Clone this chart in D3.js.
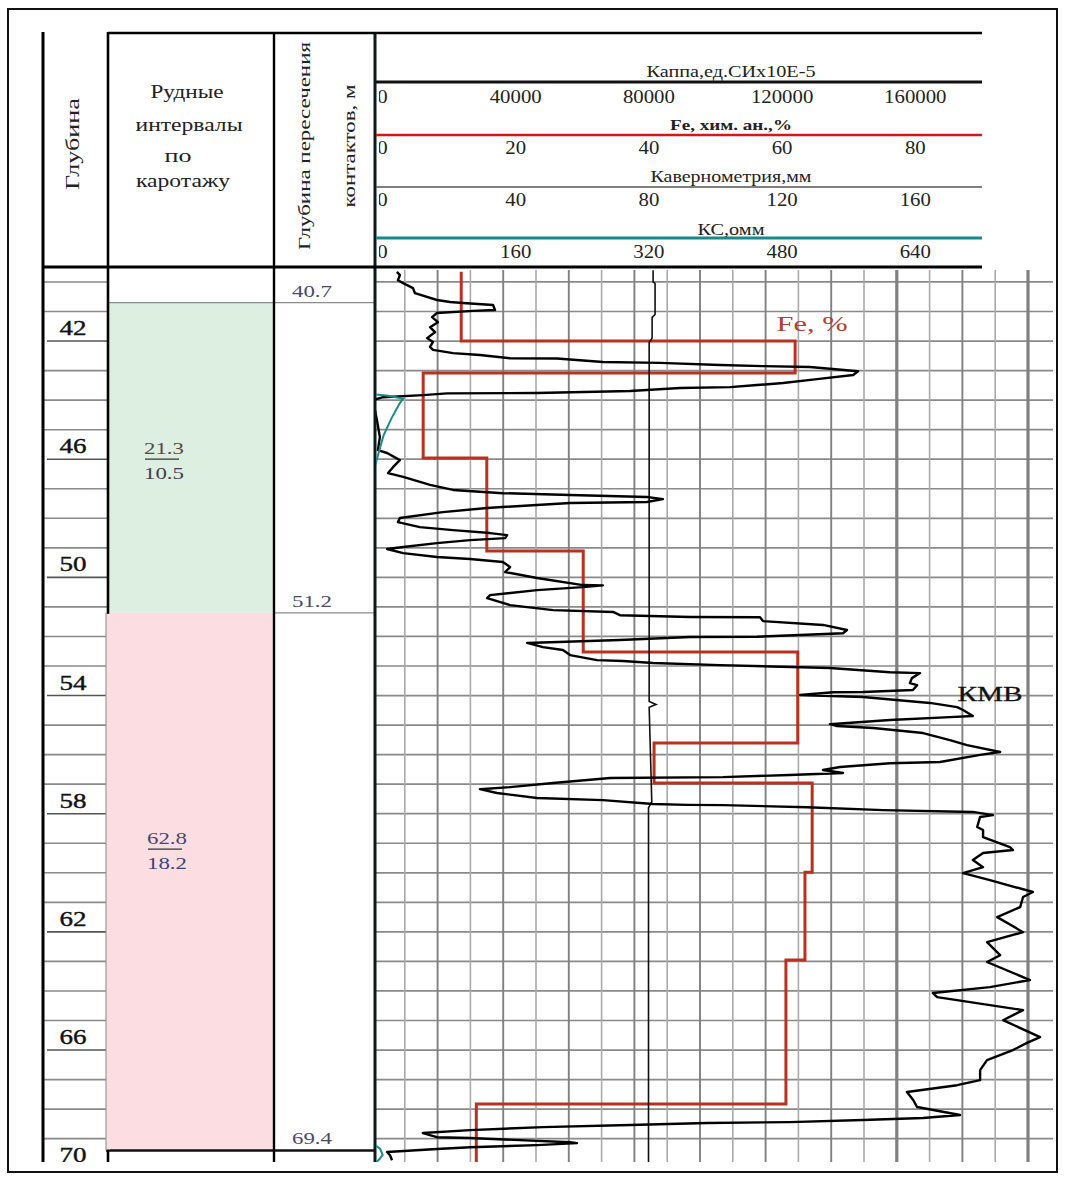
<!DOCTYPE html>
<html>
<head>
<meta charset="utf-8">
<script src="https://cdn.jsdelivr.net/npm/d3@7"></script>
<style>
  body { margin: 0; background: #fff; }
  svg { display: block; }
  text { font-family: "Liberation Serif", "Times New Roman", serif; }
</style>
</head>
<body>
<svg id="log" width="1065" height="1182"></svg>
<script>
// ---- Well log data ----
// depth column labels, m
const depthLabels = [42, 46, 50, 54, 58, 62, 66, 70];
// contact depths of the ore intervals, m
const contactDepths = [40.7, 51.2, 69.4];
// ore intervals by logging: top, bottom, grade label, thickness label
const oreTops = [40.7, 51.2];
const oreBottoms = [51.2, 69.4];
const oreGrades = ["21.3", "62.8"];
const oreThickness = ["10.5", "18.2"];
const oreColors = ["#dcefe1", "#fcdde2"];

// header tracks
const trackTitles = ["Каппа,ед.СИх10Е-5", "Fe, хим. ан.,%", "Кавернометрия,мм", "КС,омм"];
const trackMax = [200000, 100, 200, 800];
const kappaTicks = [0, 40000, 80000, 120000, 160000];
const feTicks = [0, 20, 40, 60, 80];
const caliperTicks = [0, 40, 80, 120, 160];
const kcTicks = [0, 160, 320, 480, 640];

// magnetic susceptibility (КМВ): [depth m, kappa SI x10E-5]
const kappaLog = [
  [39.66,7600],[39.77,8500],[39.94,7900],[40.04,9500],[40.21,12500],[40.38,13100],
  [40.61,19800],[40.68,23800],[40.71,27700],[40.78,36900],[40.95,37500],[40.98,30800],
  [41.05,19800],[41.19,18300],[41.36,20100],[41.53,17700],[41.70,19200],[41.90,16800],
  [42.03,18600],[42.20,17700],[42.30,18600],[42.41,24700],[42.47,32900],[42.58,42100],
  [42.59,56400],[42.71,70400],[42.74,87800],[42.81,106100],[42.85,119200],[42.88,133500],
  [43.02,148200],[43.15,146700],[43.29,135700],[43.42,125300],[43.49,117400],[43.56,109200],
  [43.59,93900],[43.69,78700],[43.76,50300],[43.77,22900],[43.83,15500],[43.90,3400],
  [44.00,300],[44.34,900],[44.67,1500],[45.25,2400],[45.69,1800],[45.79,4600],
  [46.03,8500],[46.27,6400],[46.47,4900],[46.60,9500],[46.87,17700],[47.04,24700],
  [47.15,39900],[47.21,60400],[47.28,83800],[47.35,88700],[47.45,83800],[47.48,60400],
  [47.65,35100],[47.79,21600],[47.99,8500],[48.13,7900],[48.30,14600],[48.40,24700],
  [48.50,36000],[48.57,41200],[48.67,40600],[48.74,29900],[48.84,19800],[48.97,9500],
  [49.04,4600],[49.18,9500],[49.31,19800],[49.38,29900],[49.48,39900],[49.65,42100],
  [49.82,40600],[50.02,50300],[50.26,64300],[50.27,70400],[50.33,64300],[50.43,50300],
  [50.60,36000],[50.70,35100],[50.94,42100],[51.11,55200],[51.17,73500],[51.28,75600],
  [51.34,97000],[51.35,118300],[51.48,119200],[51.61,137500],[51.78,144800],[51.89,143600],
  [51.95,130500],[52.01,117400],[52.02,97000],[52.12,75600],[52.22,47300],[52.36,52100],
  [52.46,58200],[52.63,60400],[52.80,68600],[52.83,76500],[52.90,85700],[52.97,106100],
  [53.07,139600],[53.21,157900],[53.24,167100],[53.41,164600],[53.58,164000],[53.65,166200],
  [53.81,164900],[53.88,149700],[53.89,140600],[53.98,130500],[54.05,149700],[54.25,170100],
  [54.39,178400],[54.49,180200],[54.69,183200],[54.73,176200],[54.83,157900],[54.97,139600],
  [55.03,141800],[55.10,152800],[55.27,168000],[55.51,176200],[55.68,181400],[55.91,191500],
  [56.01,185400],[56.25,173200],[56.29,157900],[56.42,142700],[56.52,137500],[56.62,143600],
  [56.69,127400],[56.76,107000],[56.79,72600],[56.96,55200],[57.10,42100],[57.17,32900],
  [57.30,38100],[57.47,50300],[57.54,70400],[57.67,85700],[57.70,96000],[57.71,107000],
  [57.78,132600],[57.88,155800],[57.94,183200],[58.05,189300],[58.11,185400],[58.45,184500],
  [58.55,186300],[58.79,186300],[59.13,194500],[59.23,195400],[59.33,186300],[59.57,183200],
  [59.81,186300],[60.01,180200],[60.25,188400],[60.65,201500],[60.82,198500],[61.16,197600],
  [61.50,190600],[62.01,198500],[62.35,187500],[62.79,191500],[63.02,187500],[63.63,200600],
  [63.87,188400],[64.07,171000],[64.21,172300],[64.48,188400],[64.65,198500],[64.99,192400],
  [65.56,203700],[65.76,199700],[66.00,195400],[66.34,187500],[66.68,185400],[67.02,185400],
  [67.19,178400],[67.42,163100],[67.69,165000],[67.93,166200],[68.20,179300],[68.30,168000],
  [68.37,149700],[68.44,127400],[68.47,102100],[68.54,78700],[68.61,52100],[68.71,29900],
  [68.81,15500],[68.95,19800],[68.98,29900],[69.12,60400],[69.15,62500],[69.22,50300],
  [69.29,29900],[69.35,19800],[69.45,4600],[69.56,5500],[69.73,6100]
];

// chemical assay Fe, %: sample tops, bottoms, values
const feTops =    [39.65, 42.00, 43.08, 45.96, 49.11, 52.53, 55.61, 56.96, 59.98, 62.95, 67.83];
const feBottoms = [42.00, 43.08, 45.96, 49.11, 52.53, 55.61, 56.96, 59.98, 62.95, 67.83, 69.80];
const feValues =  [13.6,  64.5,  7.8,   17.5,  32.2,  64.9,  43.0,  67.1,  66.0,  63.1,  15.9];

// caliper log: [depth m, diameter mm]
const caliperLog = [
  [39.6,85.7],[40.0,85.7],[40.05,86.3],[41.1,86.3],[41.2,85.4],[41.9,85.4],[42.05,84.5],
  [54.2,84.5],[54.3,86.6],[54.4,84.5],[57.6,85.3],[57.8,84.3],[69.8,84.3]
];

// apparent resistivity КС: [depth m, ohm-m]
const kcLog = [
  [39.5,3],[43.8,3],[43.85,20],[43.95,38],[44.1,34],[44.6,24],[45.2,14],[45.7,9],
  [46.1,5],[46.3,3],[69.2,3],[69.35,10],[69.55,13],[69.7,9],[69.8,5]
];

// ---- Layout ----
const col = { depthL: 43, oreL: 108, contactL: 274, plotL: 376 };
const headerTop = 33, headerBottom = 267, headerRight = 982;
const plotRight = 1055, plotBottom = 1162;

const svg = d3.select("#log");
svg.append("rect").attr("width", 1065).attr("height", 1182).attr("fill", "#fff");

const y = d3.scaleLinear().domain([39.5, 70]).range([267.2, 1168.2]);

// curve scales share the grid: 20 divisions across the plot
const xGrid = d3.scaleLinear().domain([0, 20]).range([372, 1028]);
const xKappa = d3.scaleLinear().domain([0, trackMax[0]]).range([372, 1028]);
const xFe = d3.scaleLinear().domain([0, trackMax[1]]).range([372, 1028]);
const xCal = d3.scaleLinear().domain([0, trackMax[2]]).range([372, 1028]);
const xKC = d3.scaleLinear().domain([0, trackMax[3]]).range([372, 1028]);

const defs = svg.append("defs");
defs.append("clipPath").attr("id", "plotClip").append("rect")
  .attr("x", col.plotL).attr("y", headerBottom + 2)
  .attr("width", plotRight - col.plotL + 2).attr("height", plotBottom - headerBottom - 2);
defs.append("clipPath").attr("id", "headClip").append("rect")
  .attr("x", col.plotL + 3).attr("y", headerTop).attr("width", 700).attr("height", headerBottom - headerTop);
defs.append("clipPath").attr("id", "colClip").append("rect")
  .attr("x", 0).attr("y", headerBottom).attr("width", col.plotL).attr("height", plotBottom - headerBottom);

// ---- Ore interval column ----
const left = svg.append("g").attr("clip-path", "url(#colClip)");
left.selectAll("rect.ore").data(oreTops).join("rect")
  .attr("class", "ore")
  .attr("x", (d, i) => i === 0 ? col.oreL : col.oreL - 2)
  .attr("width", (d, i) => col.contactL - (i === 0 ? col.oreL : col.oreL - 2))
  .attr("y", d => y(d))
  .attr("height", (d, i) => y(oreBottoms[i]) - y(d))
  .attr("fill", (d, i) => oreColors[i]);

// depth column meter lines
left.selectAll("line.meter").data(d3.range(40, 70)).join("line")
  .attr("class", "meter")
  .attr("x1", d => depthLabels.includes(d) ? col.depthL + 4 : col.depthL)
  .attr("x2", col.oreL)
  .attr("y1", d => y(d)).attr("y2", d => y(d))
  .attr("stroke", d => depthLabels.includes(d) ? "#555" : "#8a8a8a")
  .attr("stroke-width", 1.6);

left.selectAll("text.depth").data(depthLabels).join("text")
  .attr("class", "depth")
  .attr("x", 73).attr("y", d => y(d) - 6)
  .attr("text-anchor", "middle")
  .attr("font-size", 21).attr("fill", "#111")
  .attr("stroke", "#111").attr("stroke-width", 0.4)
  .attr("textLength", 27).attr("lengthAdjust", "spacingAndGlyphs")
  .text(d => d);

// contact lines and labels
left.selectAll("line.contact").data(contactDepths).join("line")
  .attr("class", "contact")
  .attr("x1", (d, i) => i === 2 ? col.oreL - 2 : (i === 0 ? col.oreL : col.contactL))
  .attr("x2", col.plotL)
  .attr("y1", d => y(d)).attr("y2", d => y(d))
  .attr("stroke", (d, i) => i === 2 ? "#111" : "#8c8c8c")
  .attr("stroke-width", (d, i) => i === 2 ? 2.5 : 1.4);

left.selectAll("text.contact").data(contactDepths).join("text")
  .attr("class", "contact")
  .attr("x", 312).attr("y", d => y(d) - 6)
  .attr("text-anchor", "middle")
  .attr("font-size", 17).attr("fill", "#4a4a68")
  .attr("textLength", 40).attr("lengthAdjust", "spacingAndGlyphs")
  .text(d => d.toFixed(1));

// grade / thickness fractions
const fracDepth = [46.0, 59.2];
const fracX = [164, 167];
oreGrades.forEach((g, i) => {
  const yl = y(fracDepth[i]);
  left.append("text").attr("x", fracX[i]).attr("y", yl - 5)
    .attr("text-anchor", "middle").attr("font-size", 17)
    .attr("fill", i === 0 ? "#5a4a3e" : "#3c4a78")
    .attr("textLength", 40).attr("lengthAdjust", "spacingAndGlyphs").text(g);
  left.append("line").attr("x1", fracX[i] - 19).attr("x2", fracX[i] + 15)
    .attr("y1", yl).attr("y2", yl).attr("stroke", "#333").attr("stroke-width", 1.3);
  left.append("text").attr("x", fracX[i]).attr("y", yl + 20)
    .attr("text-anchor", "middle").attr("font-size", 17)
    .attr("fill", i === 0 ? "#4a3a52" : "#3a4670")
    .attr("textLength", 40).attr("lengthAdjust", "spacingAndGlyphs").text(oreThickness[i]);
});

// ---- Log plot ----
const plot = svg.append("g").attr("clip-path", "url(#plotClip)");

plot.selectAll("line.hgrid").data(d3.range(40, 71)).join("line")
  .attr("class", "hgrid")
  .attr("x1", col.plotL).attr("x2", plotRight - 2)
  .attr("y1", d => y(d)).attr("y2", d => y(d))
  .attr("stroke", "#8a8a8a").attr("stroke-width", 1.7);

plot.selectAll("line.vgrid").data(d3.range(1, 21)).join("line")
  .attr("class", "vgrid")
  .attr("x1", d => xGrid(d)).attr("x2", d => xGrid(d))
  .attr("y1", headerBottom + 3).attr("y2", plotBottom)
  .attr("stroke", d => (d === 16 || d === 20) ? "#808080" : (d % 2 ? "#aaaaaa" : "#808080"))
  .attr("stroke-width", d => (d === 16 || d === 20) ? 3.2 : (d % 2 ? 1.6 : 1.9));

// Fe step curve
const fePoints = [];
feValues.forEach((v, i) => { fePoints.push([feTops[i], v]); fePoints.push([feBottoms[i], v]); });
plot.append("path").datum(fePoints)
  .attr("d", d3.line().x(d => xFe(d[1])).y(d => y(d[0])))
  .attr("fill", "none").attr("stroke", "#b8321f").attr("stroke-width", 3)
  .attr("stroke-linejoin", "miter");

// caliper
plot.append("path").datum(caliperLog)
  .attr("d", d3.line().x(d => xCal(d[1])).y(d => y(d[0])))
  .attr("fill", "none").attr("stroke", "#111").attr("stroke-width", 1.6);

// magnetic susceptibility
plot.append("path").datum(kappaLog)
  .attr("d", d3.line().x(d => xKappa(d[1])).y(d => y(d[0])))
  .attr("fill", "none").attr("stroke", "#000").attr("stroke-width", 2.4)
  .attr("stroke-linejoin", "round");

// plot left border (drawn under the resistivity trace)
svg.append("line").attr("x1", col.plotL - 1).attr("x2", col.plotL - 1)
  .attr("y1", headerTop).attr("y2", plotBottom)
  .attr("stroke", "#0b1a1a").attr("stroke-width", 3);

// apparent resistivity
svg.append("path").datum(kcLog)
  .attr("clip-path", "url(#plotClip)")
  .attr("d", d3.line().x(d => xKC(d[1])).y(d => y(d[0])))
  .attr("fill", "none").attr("stroke", "#1f8a8a").attr("stroke-width", 2);

// curve captions
plot.append("text").attr("x", 812).attr("y", y(41.67))
  .attr("text-anchor", "middle").attr("font-size", 20).attr("fill", "#b04030")
  .attr("textLength", 71).attr("lengthAdjust", "spacingAndGlyphs").text("Fe, %");
plot.append("text").attr("x", 990).attr("y", y(54.2))
  .attr("text-anchor", "middle").attr("font-size", 21).attr("fill", "#111")
  .attr("stroke", "#111").attr("stroke-width", 0.3)
  .attr("textLength", 65).attr("lengthAdjust", "spacingAndGlyphs").text("КМВ");

// ---- Header ----
const head = svg.append("g");
const trackLineY = [82, 135, 187, 238];
const trackColors = ["#111", "#d01a1a", "#555", "#178a8a"];
const trackWidths = [3, 2.6, 1.6, 3];
const titleY = [77, 130, 182, 235];
const titleLen = [169, 122, 161, 67];
const labelY = [103, 154, 206, 258];
const tickSets = [kappaTicks, feTicks, caliperTicks, kcTicks];

const headLabels = head.append("g").attr("clip-path", "url(#headClip)");
trackTitles.forEach((t, i) => {
  head.append("line").attr("x1", col.plotL).attr("x2", headerRight)
    .attr("y1", trackLineY[i]).attr("y2", trackLineY[i])
    .attr("stroke", trackColors[i]).attr("stroke-width", trackWidths[i]);
  head.append("text").attr("x", 731).attr("y", titleY[i])
    .attr("text-anchor", "middle").attr("font-size", i === 1 ? 15 : 16)
    .attr("font-weight", i === 1 ? "bold" : "normal").attr("fill", "#222")
    .attr("textLength", titleLen[i]).attr("lengthAdjust", "spacingAndGlyphs").text(t);

  const hs = d3.scaleLinear().domain([0, trackMax[i]]).range([382, 1048]);
  const ax = d3.axisBottom(hs).tickValues(tickSets[i]).tickSize(0).tickPadding(0)
    .tickFormat(d3.format("d"));
  const g = headLabels.append("g").attr("transform", `translate(0,${labelY[i]})`).call(ax);
  g.select(".domain").remove();
  g.attr("font-size", 18).attr("font-family", '"Liberation Serif", serif').style("color", "#222");
  g.selectAll("text").attr("y", 0).attr("dy", null)
    .attr("textLength", d => String(d).length * 10.4).attr("lengthAdjust", "spacingAndGlyphs");
});

// header column titles
head.append("text").attr("transform", "translate(79,144) rotate(-90)")
  .attr("text-anchor", "middle").attr("font-size", 19).attr("fill", "#222")
  .attr("textLength", 92).attr("lengthAdjust", "spacingAndGlyphs").text("Глубина");

const oreHead = ["Рудные", "интервалы", "по", "каротажу"];
const oreHeadX = [187, 189, 178, 183];
const oreHeadY = [98, 131, 162, 187];
const oreHeadLen = [73, 107, 27, 94];
oreHead.forEach((t, i) => {
  head.append("text").attr("x", oreHeadX[i]).attr("y", oreHeadY[i])
    .attr("text-anchor", "middle").attr("font-size", 18).attr("fill", "#222")
    .attr("textLength", oreHeadLen[i]).attr("lengthAdjust", "spacingAndGlyphs").text(t);
});

head.append("text").attr("transform", "translate(310,146) rotate(-90)")
  .attr("text-anchor", "middle").attr("font-size", 17).attr("fill", "#222")
  .attr("textLength", 208).attr("lengthAdjust", "spacingAndGlyphs").text("Глубина пересечения");
head.append("text").attr("transform", "translate(355,146) rotate(-90)")
  .attr("text-anchor", "middle").attr("font-size", 17).attr("fill", "#222")
  .attr("textLength", 123).attr("lengthAdjust", "spacingAndGlyphs").text("контактов, м");

// header frame
head.append("line").attr("x1", col.oreL).attr("x2", headerRight)
  .attr("y1", headerTop).attr("y2", headerTop).attr("stroke", "#000").attr("stroke-width", 2.6);
head.append("line").attr("x1", col.depthL).attr("x2", headerRight)
  .attr("y1", headerBottom).attr("y2", headerBottom).attr("stroke", "#000").attr("stroke-width", 3);

// column dividers
[[col.depthL, 3], [col.oreL, 2.6], [col.contactL, 2.4]].forEach(([x, w]) => {
  svg.append("line").attr("x1", x).attr("x2", x)
    .attr("y1", headerTop - 1).attr("y2", plotBottom)
    .attr("stroke", "#000").attr("stroke-width", w);
});
// the pink interval hides the ore column divider
svg.append("rect").attr("x", col.oreL - 2).attr("y", y(oreTops[1]) + 1)
  .attr("width", 4).attr("height", y(oreBottoms[1]) - y(oreTops[1]) - 2)
  .attr("fill", oreColors[1]);
svg.append("line").attr("x1", col.oreL - 2).attr("x2", col.oreL - 2)
  .attr("y1", y(oreTops[1])).attr("y2", y(oreBottoms[1]))
  .attr("stroke", "#9a9a9a").attr("stroke-width", 1.2);

// outer frame
svg.append("rect").attr("x", 8).attr("y", 9).attr("width", 1049).attr("height", 1163)
  .attr("fill", "none").attr("stroke", "#111").attr("stroke-width", 2);
</script>
</body>
</html>
